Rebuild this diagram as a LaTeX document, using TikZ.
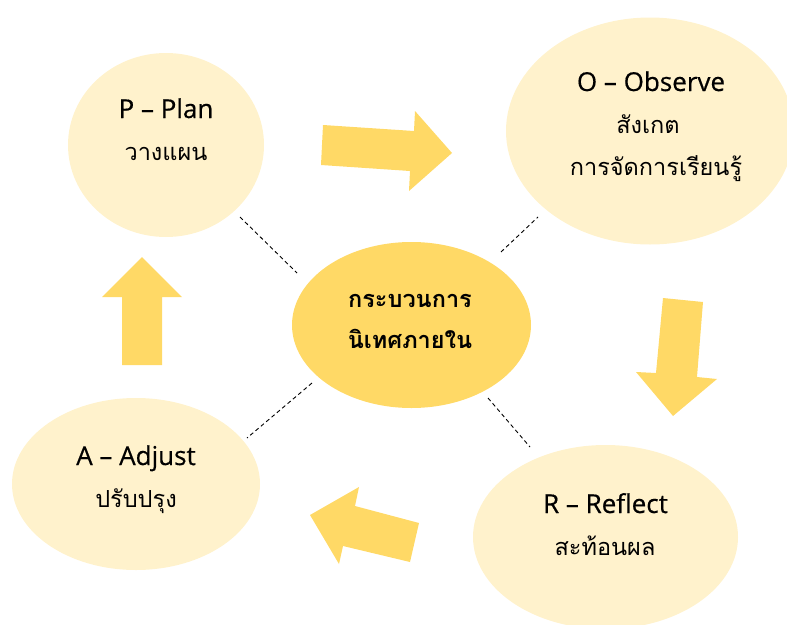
\documentclass[tikz,border=0pt]{standalone}
\usepackage{fontspec}
\setmainfont{Open Sans}
\newfontfamily\latinfont[FakeBold=0.5]{Open Sans}
\newfontfamily\thaifont[Script=Thai]{Loma}
\usetikzlibrary{shapes.geometric}
\definecolor{lightgold}{HTML}{FFF2CC}
\definecolor{gold}{HTML}{FFD966}
\tikzset{
  bubble/.style={ellipse, fill=lightgold, draw=none, inner sep=0pt},
  hub/.style={ellipse, fill=gold, draw=none, inner sep=0pt},
  latin/.style={anchor=base, inner sep=0pt, font=\latinfont\fontsize{26}{30}\selectfont},
  thai/.style={anchor=base, inner sep=0pt, font=\thaifont\fontsize{23.5}{30}\selectfont},
  thaibold/.style={anchor=base, inner sep=0pt, font=\thaifont\bfseries\fontsize{23.5}{30}\selectfont},
  bigarrow/.style={fill=gold, draw=none},
  link/.style={draw=black, line width=0.9pt, dash pattern=on 4pt off 3pt}
}
\begin{document}
\begin{tikzpicture}[x=1pt,y=-1pt]
\useasboundingbox (0,0) rectangle (787,624);
\clip (0,0) rectangle (787,624);
% bubbles
\node[bubble, minimum width=196pt, minimum height=184pt] (plan) at (166,145) {};
\node[bubble, minimum width=288pt, minimum height=227pt] (observe) at (650,131) {};
\node[bubble, minimum width=248pt, minimum height=172pt] (adjust) at (136,484) {};
\node[bubble, minimum width=265pt, minimum height=184pt] (reflect) at (605.5,537) {};
\node[hub, minimum width=239pt, minimum height=166pt] (hub) at (411.5,325) {};
% texts
\node[latin] (tp1) at (166,118) {P – Plan};
\node[thai] (tp2) at (166,160) {วางแผน};
\node[latin] (to1) at (651,91) {O – Observe};
\node[thai] (to2) at (648,133) {สังเกต};
\node[thai] (to3) at (656,175) {การจัดการเรียนรู้};
\node[thaibold] (th1) at (410,307) {กระบวนการ};
\node[thaibold] (th2) at (410,348) {นิเทศภายใน};
\node[latin] (ta1) at (136,465) {A – Adjust};
\node[thai] (ta2) at (136,507) {ปรับปรุง};
\node[latin] (tr1) at (605.5,513) {R – Reflect};
\node[thai] (tr2) at (605,555) {สะท้อนผล};
% block arrows
\fill[bigarrow] (323,125) -- (414,131) -- (415,111) -- (452,153) -- (409,191) -- (410,171) -- (321,165) -- cycle;
\fill[bigarrow] (663,298) -- (703,302) -- (697,377) -- (717,379) -- (673,416) -- (636,372) -- (656,373) -- cycle;
\fill[bigarrow] (310,515) -- (359,487) -- (355,506) -- (419,523) -- (410,562) -- (343,546) -- (339,564) -- cycle;
\fill[bigarrow] (142,257) -- (182,297) -- (162,297) -- (162,365) -- (122,365) -- (122,297) -- (102,297) -- cycle;
% dashed links
\coordinate (d1a) at (240,217); \coordinate (d1b) at (297,273);
\coordinate (d2a) at (501,252); \coordinate (d2b) at (538,217);
\coordinate (d3a) at (312,383); \coordinate (d3b) at (247,438);
\coordinate (d4a) at (488,398); \coordinate (d4b) at (530,447);
\draw[link] (d1a) -- (d1b);
\draw[link] (d2a) -- (d2b);
\draw[link] (d3a) -- (d3b);
\draw[link] (d4a) -- (d4b);
\end{tikzpicture}
\end{document}
